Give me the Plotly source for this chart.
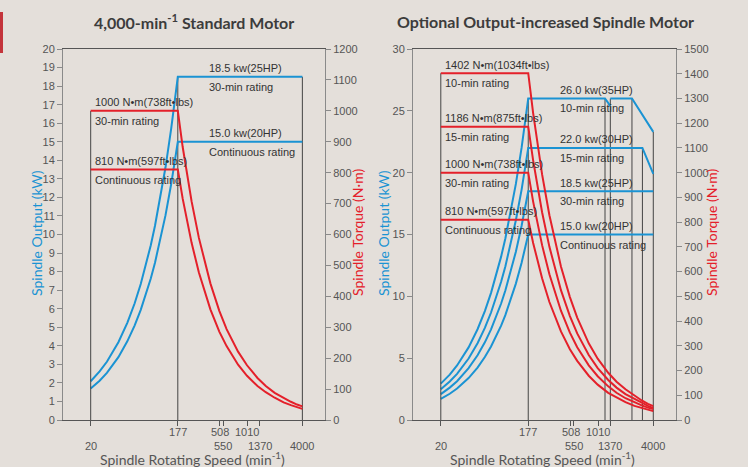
import math
import plotly.graph_objects as go

# ---------------- data ----------------
x_tick_vals = [20, 177, 508, 550, 1010, 1370, 4000]
x_tick_row1 = ["177", "508", "1010"]
x_tick_row2 = ["20", "550", "1370", "4000"]

# Standard motor: spindle output (kW)
std_out_speed = [20, 25, 30, 35, 40, 50, 60, 70, 80, 90, 100, 115, 130, 150, 177, 4000]
std_out_30min = [2.09, 2.62, 3.14, 3.67, 4.19, 5.24, 6.28, 7.33, 8.38, 9.42, 10.47, 12.04, 13.61, 15.71, 18.5, 18.5]
std_out_cont = [1.70, 2.12, 2.54, 2.97, 3.39, 4.24, 5.09, 5.94, 6.79, 7.63, 8.48, 9.75, 11.03, 12.72, 15.0, 15.0]

# Standard motor: spindle torque (N·m)
tq_speed = [20, 177, 200, 250, 300, 400, 500, 600, 800, 1000, 1300, 1600, 2000, 2500, 3000, 3500, 4000]
std_tq_30min = [1000, 1000, 883, 707, 589, 442, 353, 294, 221, 177, 136, 110, 88, 71, 59, 50, 44]
std_tq_cont = [810, 810, 716, 573, 477, 358, 286, 239, 179, 143, 110, 90, 72, 57, 48, 41, 36]

# Standard motor: rating boundary lines (speed, top value)
std_vline_speed = [177, 4000]
std_vline_top_kw = [18.5, 18.5]
std_vline_tq_speed = [20]
std_vline_tq_top = [1000]

# Optional motor: spindle output (kW)
opt_rise_speed = [20, 25, 30, 35, 40, 50, 60, 70, 80, 90, 100, 115, 130, 150, 177]
opt_out_10min_speed = opt_rise_speed + [1200, 1370, None, 1370, 2350, 4000]
opt_out_10min = [2.94, 3.67, 4.41, 5.14, 5.87, 7.34, 8.81, 10.28, 11.75, 13.21, 14.68, 16.88, 19.09, 22.02, 26.0,
                 26.0, 25.4, None, 26.0, 26.0, 23.3]
opt_out_15min_speed = opt_rise_speed + [3050, 4000]
opt_out_15min = [2.48, 3.11, 3.73, 4.35, 4.97, 6.21, 7.45, 8.69, 9.94, 11.18, 12.42, 14.28, 16.15, 18.63, 22.0,
                 22.0, 19.9]
opt_out_30min_speed = opt_rise_speed + [4000]
opt_out_30min = [2.09, 2.62, 3.14, 3.67, 4.19, 5.24, 6.28, 7.33, 8.38, 9.42, 10.47, 12.04, 13.61, 15.71, 18.5, 18.5]
opt_out_cont_speed = opt_rise_speed + [4000]
opt_out_cont = [1.70, 2.12, 2.54, 2.97, 3.39, 4.24, 5.09, 5.94, 6.79, 7.63, 8.48, 9.75, 11.03, 12.72, 15.0, 15.0]

# Optional motor: spindle torque (N·m)
opt_tq_10min = [1402, 1402, 1241, 993, 828, 621, 497, 414, 310, 248, 191, 155, 124, 98, 79, 65, 56]
opt_tq_15min = [1186, 1186, 1050, 840, 700, 525, 420, 350, 263, 210, 162, 131, 105, 84, 70, 57, 48]
opt_tq_30min = [1000, 1000, 883, 707, 589, 442, 353, 294, 221, 177, 136, 110, 88, 71, 59, 50, 44]
opt_tq_cont = [810, 810, 716, 573, 477, 358, 286, 239, 179, 143, 110, 90, 72, 57, 48, 41, 36]

# Optional motor: rating boundary lines
opt_vline_speed = [177, 1200, 1370, 2350, 3050, 4000]
opt_vline_top_kw = [26.0, 26.0, 26.0, 26.0, 22.0, 23.3]
opt_vline_tq_speed = [20]
opt_vline_tq_top = [1402]

# rating labels: (text above line, text below line, value)
std_kw_labels = [("18.5 kw(25HP)", "30-min rating", 18.5), ("15.0 kw(20HP)", "Continuous rating", 15.0)]
std_tq_labels = [("1000 N•m(738ft•lbs)", "30-min rating", 1000), ("810 N•m(597ft•lbs)", "Continuous rating", 810)]
opt_kw_labels = [("26.0 kw(35HP)", "10-min rating", 26.0), ("22.0 kw(30HP)", "15-min rating", 22.0),
                 ("18.5 kw(25HP)", "30-min rating", 18.5), ("15.0 kw(20HP)", "Continuous rating", 15.0)]
opt_tq_labels = [("1402 N•m(1034ft•lbs)", "10-min rating", 1402), ("1186 N•m(875ft•lbs)", "15-min rating", 1186),
                 ("1000 N•m(738ft•lbs)", "30-min rating", 1000), ("810 N•m(597ft•lbs)", "Continuous rating", 810)]
kw_label_speed = 370
tq_label_speed = 21

# ---------------- style ----------------
W, H = 748, 467
BG = "#e4dfda"
BLUE = "#1a93d3"
RED = "#e4202a"
DARK = "#444444"
AX = "#8a8a8a"
NARROW = "Liberation Sans Narrow, Arial Narrow, Liberation Sans, sans-serif"
SANS = "Lato, Liberation Sans, sans-serif"


def px(x):
    return x / W


def py(y):
    return 1 - y / H


def vlines(speeds, tops):
    xs, ys = [], []
    for s, t in zip(speeds, tops):
        xs += [s, s, None]
        ys += [0, t, None]
    return xs, ys


fig = go.Figure()


def line(x, y, color, xa, ya, width=2):
    fig.add_trace(go.Scatter(x=x, y=y, mode="lines", line=dict(color=color, width=width),
                             xaxis=xa, yaxis=ya, hoverinfo="skip", showlegend=False))


# standard motor
vx, vy = vlines(std_vline_speed, std_vline_top_kw)
line(vx, vy, DARK, "x", "y", 1)
vx, vy = vlines(std_vline_tq_speed, std_vline_tq_top)
line(vx, vy, DARK, "x", "y2", 1)
line(std_out_speed, std_out_30min, BLUE, "x", "y")
line(std_out_speed, std_out_cont, BLUE, "x", "y")
line(tq_speed, std_tq_30min, RED, "x", "y2")
line(tq_speed, std_tq_cont, RED, "x", "y2")

# optional motor
vx, vy = vlines(opt_vline_speed, opt_vline_top_kw)
line(vx, vy, DARK, "x2", "y3", 1)
vx, vy = vlines(opt_vline_tq_speed, opt_vline_tq_top)
line(vx, vy, DARK, "x2", "y4", 1)
line(opt_out_10min_speed, opt_out_10min, BLUE, "x2", "y3")
line(opt_out_15min_speed, opt_out_15min, BLUE, "x2", "y3")
line(opt_out_30min_speed, opt_out_30min, BLUE, "x2", "y3")
line(opt_out_cont_speed, opt_out_cont, BLUE, "x2", "y3")
line(tq_speed, opt_tq_10min, RED, "x2", "y4")
line(tq_speed, opt_tq_15min, RED, "x2", "y4")
line(tq_speed, opt_tq_30min, RED, "x2", "y4")
line(tq_speed, opt_tq_cont, RED, "x2", "y4")

XR = [1.0, 3.848]
YD = [py(420), py(49)]


def xax(domain):
    return dict(domain=domain, type="log", range=XR, showline=True, linecolor="#555", linewidth=1,
                mirror=True, ticks="outside", ticklen=5, tickwidth=1, tickcolor="#555",
                tickvals=x_tick_vals, showticklabels=False, showgrid=False, zeroline=False)


def yax(rng, dtick, anchor, side="left", overlaying=None):
    d = dict(domain=YD, range=rng, dtick=dtick, tick0=0, anchor=anchor, side=side, showline=True,
             linecolor=AX, linewidth=1, ticks="outside", ticklen=5, tickwidth=1, tickcolor=AX,
             showgrid=False, zeroline=False, automargin=False,
             tickfont=dict(family=NARROW, size=11, color="#555"))
    if overlaying:
        d["overlaying"] = overlaying
    return d


ann = []
# titles
ann.append(dict(text="<b>4,000-min<sup>-1</sup> Standard Motor</b>", x=px(194), y=py(21), xref="paper",
                yref="paper", xanchor="center", yanchor="middle", showarrow=False,
                font=dict(family=SANS, size=16, color="#3c3c3c")))
ann.append(dict(text="<b>Optional Output-increased Spindle Motor</b>", x=px(545), y=py(21), xref="paper",
                yref="paper", xanchor="center", yanchor="middle", showarrow=False,
                font=dict(family=SANS, size=16, color="#3c3c3c")))
# axis titles
for xp, txt, col in [(36, "Spindle Output (kW)", BLUE), (357, "Spindle Torque (N·m)", RED),
                     (383, "Spindle Output (kW)", BLUE), (711, "Spindle Torque (N·m)", RED)]:
    ann.append(dict(text=txt, x=px(xp), y=py(233), xref="paper", yref="paper", textangle=-90,
                    xanchor="center", yanchor="middle", showarrow=False,
                    font=dict(family=SANS, size=14, color=col)))
for xp in [193, 542]:
    ann.append(dict(text="Spindle Rotating Speed (min<sup>-1</sup>)", x=px(xp), y=py(458), xref="paper",
                    yref="paper", xanchor="center", yanchor="middle", showarrow=False,
                    font=dict(family=SANS, size=14, color="#555")))
# x tick labels (two staggered rows)
for xa in ["x", "x2"]:
    for t in x_tick_row1:
        ann.append(dict(text=t, x=math.log10(float(t)), y=py(432), xref=xa, yref="paper", showarrow=False,
                        xanchor="center", yanchor="middle", font=dict(family=NARROW, size=11, color="#555")))
    for t in x_tick_row2:
        ann.append(dict(text=t, x=math.log10(float(t)), y=py(445.5), xref=xa, yref="paper", showarrow=False,
                        xanchor="center", yanchor="middle", font=dict(family=NARROW, size=11, color="#555")))


def rating(labels, xa, ya, speed):
    for top, bot, v in labels:
        for t, sh in [(top, 8.5), (bot, -10)]:
            ann.append(dict(text=t, x=math.log10(speed), y=v, xref=xa, yref=ya, xanchor="left",
                            yanchor="middle", yshift=sh, showarrow=False,
                            font=dict(family=NARROW, size=11, color="#333")))


rating(std_kw_labels, "x", "y", kw_label_speed)
rating(std_tq_labels, "x", "y2", tq_label_speed)
rating(opt_kw_labels, "x2", "y3", kw_label_speed)
rating(opt_tq_labels, "x2", "y4", tq_label_speed)

fig.update_layout(
    width=W, height=H, margin=dict(l=0, r=0, t=0, b=0, pad=0, autoexpand=False),
    paper_bgcolor=BG, plot_bgcolor=BG, showlegend=False,
    xaxis=xax([px(63), px(325)]),
    xaxis2=xax([px(413), px(676)]),
    yaxis=yax([0, 20], 1, "x"),
    yaxis2=yax([0, 1200], 100, "x", side="right", overlaying="y"),
    yaxis3=yax([0, 30], 5, "x2"),
    yaxis4=yax([0, 1500], 100, "x2", side="right", overlaying="y3"),
    annotations=ann,
    shapes=[dict(type="rect", xref="paper", yref="paper", x0=0, x1=px(3), y0=py(53), y1=py(12),
                 fillcolor="#c4343b", line=dict(width=0))],
)

fig.write_html("out.html", config={"displayModeBar": False},
               post_script="document.body.style.margin='0px';document.body.style.background='" + BG + "';")
